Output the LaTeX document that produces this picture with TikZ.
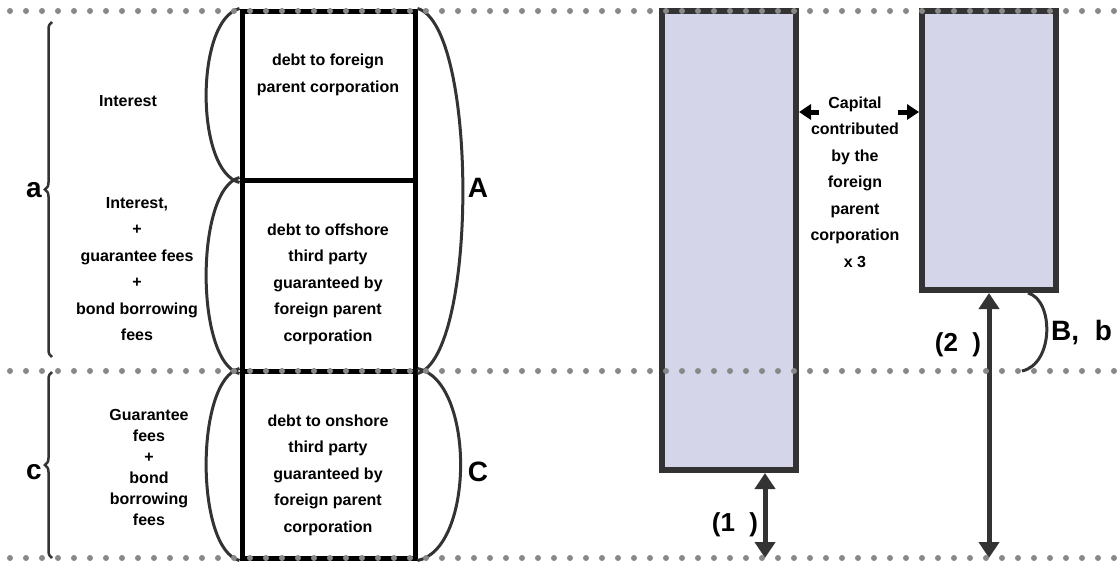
\documentclass[tikz,border=0pt]{standalone}
\usepackage{fontspec}
\setmainfont{Liberation Sans}
\usetikzlibrary{arrows.meta,decorations.pathreplacing}
\definecolor{dark}{RGB}{51,51,51}
\definecolor{dotgray}{RGB}{136,136,136}
\definecolor{lav}{RGB}{212,213,232}
\begin{document}
\begin{tikzpicture}[x=1pt, y=-1pt,
	txt/.style={font=\bfseries\fontsize{16}{26.5}\selectfont, align=center, inner sep=0pt},
	big/.style={font=\bfseries\fontsize{28}{30}\selectfont, inner sep=0pt},
	mid/.style={font=\bfseries\fontsize{26}{28}\selectfont, inner sep=0pt},
	debt/.style={draw, line width=5pt, minimum width=173pt, inner sep=0pt},
	capbox/.style={draw=dark, fill=lav, line width=6pt, minimum width=134pt, inner sep=0pt},
	lobe/.style={draw=dark, line width=3pt},
	brc/.style={draw=dark, line width=2.5pt, decorate, decoration={brace, amplitude=7pt}},
	dbl/.style={draw=dark, line width=5pt, {Triangle[width=20pt,length=16pt]}-{Triangle[width=20pt,length=16pt]}},
	ptr/.style={line width=5pt, -{Triangle[width=15pt,length=12pt]}},
	dots/.style={draw=dotgray, line width=6pt, line cap=round, dash pattern=on 0pt off 16pt}]
	\useasboundingbox (0,0) rectangle (1117,562);
	% left column
	\node[debt, minimum height=169pt] (D1) at (328.5,95.5) {};
	\node[debt, minimum height=191pt] (D2) at (328.5,275.5) {};
	\node[debt, minimum height=187pt] (D3) at (328.5,464.5) {};
	\node[txt] (T1) at (328,75) {debt to foreign\\parent corporation};
	\node[txt] (T2) at (328,284) {debt to offshore\\third party\\guaranteed by\\foreign parent\\corporation};
	\node[txt] (T3) at (328,475) {debt to onshore\\third party\\guaranteed by\\foreign parent\\corporation};
	\node[txt] (I1) at (128,101) {Interest};
	\node[txt] (I2) at (137,269) {Interest,\\+\\guarantee fees\\+\\bond borrowing\\fees};
	\node[txt, font=\bfseries\fontsize{16}{21}\selectfont] (I3) at (149,467) {Guarantee\\fees\\+\\bond\\borrowing\\fees};
	\draw[lobe] (D1.north west) .. controls (195,20) and (195,171) .. (D1.south west);
	\draw[lobe] (D2.north west) .. controls (195,189) and (195,362) .. (D2.south west);
	\draw[lobe] (D3.north west) .. controls (195,380) and (195,549) .. (D3.south west);
	\draw[lobe] (D1.north east) .. controls (478,25) and (478,357) .. (D2.south east);
	\draw[lobe] (D3.north east) .. controls (475,380) and (475,549) .. (D3.south east);
	\draw[brc] (52,357) -- (52,22);
	\draw[brc] (52,558) -- (52,372);
	\node[big] (a) at (34,190) {a};
	\node[big] (c) at (34,472) {c};
	\node[big] (A) at (478,188) {A};
	\node[big] (C) at (478,472) {C};
	% right side
	\node[capbox, minimum height=459pt] (K1) at (729,240.5) {};
	\node[capbox, minimum height=279pt] (K2) at (989,150.5) {};
	\node[txt] (P) at (855,182) {Capital\\contributed\\by the\\foreign\\parent\\corporation\\x 3};
	\coordinate (p1) at (819,112);
	\coordinate (p2) at (898,112);
	\draw[ptr] (p1) -- (p1 -| K1.east);
	\draw[ptr] (p2) -- (p2 -| K2.west);
	\coordinate (g1) at (765,558);
	\coordinate (g2) at (989,558);
	\draw[dbl] (g1 |- K1.south) -- (g1);
	\draw[dbl] (K2.south) -- (g2);
	\node[mid] (n1) at (735,525) {(1\ \ )};
	\node[mid] (n2) at (958,345) {(2\ \ )};
	\coordinate (b0) at (1028,293);
	\coordinate (b1) at (1022,371);
	\draw[lobe] (b0) .. controls (1054,300) and (1054,364) .. (b1);
	\node[big, anchor=west] (B) at (1051,333) {B,\ \ b};
	% dotted guide lines
	\draw[dots] (10,11) -- (1117,11);
	\draw[dots] (10,371) -- (1117,371);
	\draw[dots] (10,558) -- (1117,558);
\end{tikzpicture}
\end{document}
